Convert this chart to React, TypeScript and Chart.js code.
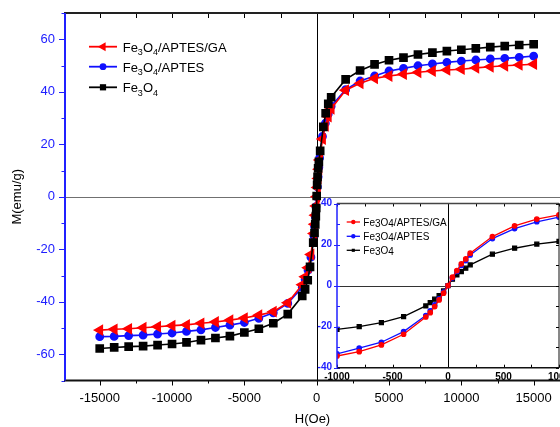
import React, { useEffect, useRef } from "react";
import { Chart, registerables } from "chart.js";

Chart.register(...registerables);

const FONT = "'Liberation Sans', Arial, Helvetica, sans-serif";
Chart.defaults.font.family = FONT;

// ---------------- main plot data ----------------
const H_MAIN_BLACK = [
  -15000, -14000, -13000, -12000, -11000, -10000, -9000, -8000, -7000, -6000, -5000, -4000, -3000, -2000,
  -1000, -800, -620, -460, -240, -150, -100, -60, -30, 0, 30, 60, 100, 150, 240, 460, 620, 800, 1000,
  2000, 3000, 4000, 5000, 6000, 7000, 8000, 9000, 10000, 11000, 12000, 13000, 14000, 15000,
];
const M_MAIN_BLACK = [
  -57.8, -57.4, -57.1, -56.9, -56.5, -56.1, -55.5, -54.6, -53.8, -53.1, -51.7, -50.3, -48.2, -44.7,
  -37.8, -35.3, -31.8, -26.7, -17.5, -13.8, -10.5, -7.4, -4.3, 0.3, 4.5, 7.6, 10.8, 13.3, 17.5, 26.6, 31.8, 35.4, 37.9,
  44.7, 48.1, 50.4, 52.0, 53.0, 54.2, 54.9, 55.5, 56.0, 56.5, 57.0, 57.4, 57.8, 58.1,
];
const H_MAIN_RB = [
  -15000, -14000, -13000, -12000, -11000, -10000, -9000, -8000, -7000, -6000, -5000, -4000, -3000, -2000,
  -1000, -800, -600, -400, -200, -150, -100, -50, 0, 50, 100, 150, 200, 400, 600, 800, 1000,
  2000, 3000, 4000, 5000, 6000, 7000, 8000, 9000, 10000, 11000, 12000, 13000, 14000, 15000,
];
const M_MAIN_RED = [
  -50.8, -50.5, -50.3, -49.9, -49.5, -49.1, -48.8, -48.2, -47.7, -47.0, -46.2, -45.1, -43.8, -40.4,
  -33.5, -30.5, -27.0, -22.0, -14.0, -10.5, -7.0, -3.5, 0, 3.5, 7.0, 10.5, 14.0, 22.0, 27.0, 30.5, 33.5,
  40.6, 43.2, 45.1, 46.0, 46.7, 47.4, 47.9, 48.3, 48.6, 49.1, 49.5, 49.9, 50.2, 50.5,
];
const M_MAIN_BLUE = [
  -53.3, -53.2, -52.9, -52.7, -52.3, -51.9, -51.3, -50.7, -49.8, -48.9, -47.9, -46.3, -44.2, -40.6,
  -34.5, -31.5, -28.0, -23.0, -14.8, -11.2, -7.6, -3.8, 0, 3.8, 7.6, 11.2, 14.8, 23.0, 28.0, 31.5, 34.5,
  40.8, 44.1, 46.0, 47.9, 48.9, 49.9, 50.6, 51.2, 51.7, 52.1, 52.5, 52.7, 53.1, 53.6,
];
const MAIN_X_TICKS = [-15000, -10000, -5000, 0, 5000, 10000, 15000];
const MAIN_Y_TICKS = [-60, -40, -20, 0, 20, 40, 60];

// ---------------- inset data ----------------
const H_INSET = [-1000, -800, -600, -400, -200, -160, -120, -80, -40, 0, 40, 80, 120, 160, 200, 400, 600, 800, 1000];
const M_INSET_RED = [-34.3, -32.2, -28.9, -23.7, -15.3, -13.2, -10.2, -7.0, -3.7, 0, 4.1, 7.3, 10.6, 13.0, 15.8, 23.9, 29.1, 32.4, 34.5];
const M_INSET_BLUE = [-33.3, -30.5, -27.6, -22.4, -14.6, -12.3, -9.4, -6.5, -3.2, 0, 3.8, 6.9, 9.8, 12.2, 14.9, 22.9, 27.8, 31.1, 33.4];
const M_INSET_BLACK = [-21.3, -20.0, -18.0, -15.1, -9.9, -8.3, -6.6, -4.9, -2.6, 0, 3.1, 5.2, 6.8, 8.5, 10.1, 15.3, 18.2, 20.2, 21.5];
const INSET_X_TICKS = [-1000, -500, 0, 500, 1000];
const INSET_Y_TICKS = [-40, -20, 0, 20, 40];

const LABEL_GA = "Fe3O4/APTES/GA";
const LABEL_APTES = "Fe3O4/APTES";
const LABEL_FE = "Fe3O4";

const RED = "#ff0000";
const BLUE = "#1010ff";
const AXIS_BLUE = "#2020ff";
const BLACK = "#000000";

const pts = (xs: number[], ys: number[]) => xs.map((x, i) => ({ x, y: ys[i] }));

function drawRich(ctx: CanvasRenderingContext2D, text: string, x: number, y: number, size: number, subSize: number, subDy: number, color: string) {
  ctx.fillStyle = color;
  ctx.textBaseline = "alphabetic";
  ctx.textAlign = "left";
  const runs = text.match(/[0-9]+|[^0-9]+/g) || [];
  let cx = x;
  for (const r of runs) {
    const isSub = /^[0-9]+$/.test(r);
    ctx.font = `${isSub ? subSize : size}px ${FONT}`;
    ctx.fillText(r, cx, y + (isSub ? subDy : 0));
    cx += ctx.measureText(r).width;
  }
}

function drawMarker(ctx: CanvasRenderingContext2D, style: string, cx: number, cy: number, r: number, color: string) {
  ctx.fillStyle = color;
  ctx.beginPath();
  if (style === "triangle") {
    ctx.moveTo(cx - r, cy);
    ctx.lineTo(cx + r * 0.5, cy - r * 0.866);
    ctx.lineTo(cx + r * 0.5, cy + r * 0.866);
    ctx.closePath();
  } else if (style === "rect") {
    const s = r * Math.SQRT1_2;
    ctx.rect(cx - s, cy - s, 2 * s, 2 * s);
  } else {
    ctx.arc(cx, cy, r, 0, Math.PI * 2);
  }
  ctx.fill();
}

function line(ctx: CanvasRenderingContext2D, x1: number, y1: number, x2: number, y2: number, color: string, w: number) {
  ctx.strokeStyle = color;
  ctx.lineWidth = w;
  ctx.beginPath();
  ctx.moveTo(x1, y1);
  ctx.lineTo(x2, y2);
  ctx.stroke();
}

const mainDecor = {
  id: "mainDecor",
  beforeDatasetsDraw(chart: any) {
    const { ctx, chartArea: a, scales } = chart;
    const x0 = scales.x.getPixelForValue(0);
    const y0 = scales.y.getPixelForValue(0);
    ctx.save();
    line(ctx, a.left, Math.round(y0) + 0.5, chart.width, Math.round(y0) + 0.5, "#707070", 1);
    line(ctx, Math.round(x0) + 0.5, a.top, Math.round(x0) + 0.5, a.bottom, "#000", 1);
    ctx.restore();
  },
  afterDatasetsDraw(chart: any) {
    const { ctx, chartArea: a, scales } = chart;
    const xs = scales.x;
    const ys = scales.y;
    ctx.save();
    // x ticks (bottom outward, top inward)
    for (let v = -17500; v <= 17500; v += 2500) {
      if (v < xs.min || v > xs.max) continue;
      const px = Math.round(xs.getPixelForValue(v)) + 0.5;
      const major = v % 5000 === 0;
      line(ctx, px, a.bottom, px, a.bottom + (major ? 5 : 3), "#000", 1);
      line(ctx, px, a.top, px, a.top + 5, "#000", 1);
    }
    // y ticks (left outward)
    for (let v = -70; v <= 70; v += 10) {
      const py = Math.round(ys.getPixelForValue(v)) + 0.5;
      const major = v % 20 === 0;
      line(ctx, a.left - (major ? 6 : 3.5), py, a.left, py, AXIS_BLUE, 1);
    }
    // axis lines
    line(ctx, a.left - 1, a.top, chart.width, a.top, "#222", 2);
    line(ctx, a.left - 1, a.bottom, chart.width, a.bottom, "#111", 2);
    line(ctx, a.left, a.top, a.left, a.bottom, AXIS_BLUE, 2);

    // legend
    const styles = [
      { style: "triangle", r: 5.2 },
      { style: "circle", r: 3.4 },
      { style: "rect", r: 4.4 },
    ];
    const rows = [46.7, 66.7, 87.3];
    chart.data.datasets.forEach((ds: any, i: number) => {
      const y = rows[i];
      line(ctx, 89, y, 117, y, ds.borderColor, 1.8);
      drawMarker(ctx, styles[i].style, 103, y, styles[i].r, ds.borderColor);
      drawRich(ctx, ds.label, 122.7, y + 5, 13, 9, 3.3, "#000");
    });
    ctx.restore();
  },
};

const insetDecor = {
  id: "insetDecor",
  beforeDraw(chart: any) {
    const { ctx, chartArea: a } = chart;
    ctx.save();
    ctx.fillStyle = "#fff";
    ctx.fillRect(a.left, a.top, a.right - a.left, a.bottom - a.top);
    ctx.restore();
  },
  beforeDatasetsDraw(chart: any) {
    const { ctx, chartArea: a, scales } = chart;
    const x0 = scales.x.getPixelForValue(0);
    const y0 = scales.y.getPixelForValue(0);
    ctx.save();
    line(ctx, a.left, Math.round(y0) + 0.5, a.right, Math.round(y0) + 0.5, "#333", 1);
    line(ctx, Math.round(x0) + 0.5, a.top, Math.round(x0) + 0.5, a.bottom, "#000", 1);
    ctx.restore();
  },
  afterDatasetsDraw(chart: any) {
    const { ctx, chartArea: a, scales } = chart;
    const xs = scales.x;
    const ys = scales.y;
    ctx.save();
    for (let v = -1000; v <= 1000; v += 250) {
      const px = Math.round(xs.getPixelForValue(v)) + 0.5;
      line(ctx, px, a.bottom, px, a.bottom - 3, "#000", 1);
      line(ctx, px, a.top, px, a.top + 3, "#000", 1);
    }
    for (let v = -40; v <= 40; v += 10) {
      const py = Math.round(ys.getPixelForValue(v)) + 0.5;
      const major = v % 20 === 0;
      line(ctx, a.left - (major ? 3 : 0), py, a.left + 3, py, AXIS_BLUE, 1);
      line(ctx, a.right - 3, py, a.right, py, "#000", 1);
    }
    line(ctx, a.left, a.top, a.right, a.top, "#444", 1.5);
    line(ctx, a.left, a.bottom, a.right, a.bottom, "#111", 1.5);
    line(ctx, a.right, a.top, a.right, a.bottom, "#111", 1);
    line(ctx, a.left, a.top, a.left, a.bottom, AXIS_BLUE, 1.5);

    // legend
    const styles = ["circle", "circle", "rect"];
    const rows = [32, 46.3, 60.3];
    chart.data.datasets.forEach((ds: any, i: number) => {
      const y = rows[i];
      line(ctx, 56.7, y, 70, y, ds.borderColor, 1.3);
      drawMarker(ctx, styles[i], 63.3, y, 2.2, ds.borderColor);
      drawRich(ctx, ds.label, 73.3, y + 3.6, 10, 10, 1.5, "#000");
    });
    ctx.restore();
  },
};

export default function App() {
  const mainRef = useRef<HTMLCanvasElement>(null);
  const insetRef = useRef<HTMLCanvasElement>(null);

  useEffect(() => {
    const main = new Chart(mainRef.current as HTMLCanvasElement, {
      type: "line",
      data: {
        datasets: [
          {
            label: LABEL_GA,
            data: pts(H_MAIN_RB, M_MAIN_RED),
            borderColor: RED,
            backgroundColor: RED,
            pointBackgroundColor: RED,
            pointBorderColor: RED,
            pointStyle: "triangle",
            pointRotation: -90,
            pointRadius: 5.2,
            borderWidth: 1.6,
            order: 1,
          },
          {
            label: LABEL_APTES,
            data: pts(H_MAIN_RB, M_MAIN_BLUE),
            borderColor: BLUE,
            backgroundColor: BLUE,
            pointBackgroundColor: BLUE,
            pointBorderColor: BLUE,
            pointStyle: "circle",
            pointRadius: 3.6,
            borderWidth: 1.6,
            order: 2,
          },
          {
            label: LABEL_FE,
            data: pts(H_MAIN_BLACK, M_MAIN_BLACK),
            borderColor: BLACK,
            backgroundColor: BLACK,
            pointBackgroundColor: BLACK,
            pointBorderColor: BLACK,
            pointStyle: "rect",
            pointRadius: 5,
            borderWidth: 1.6,
            order: 0,
          },
        ],
      } as any,
      options: {
        responsive: false,
        animation: false,
        devicePixelRatio: 1,
        layout: { autoPadding: false, padding: { top: 13, right: 0, left: 0, bottom: 0 } },
        plugins: { legend: { display: false }, tooltip: { enabled: false } },
        elements: { line: { tension: 0 }, point: { borderWidth: 1 } },
        scales: {
          x: {
            type: "linear",
            min: -17400,
            max: 16820,
            afterBuildTicks: (s: any) => {
              s.ticks = MAIN_X_TICKS.map((v) => ({ value: v }));
            },
            afterFit: (s: any) => {
              s.height = 46.5;
              s.paddingLeft = 0;
              s.paddingRight = 0;
            },
            grid: { display: false, drawTicks: false },
            border: { display: false },
            ticks: {
              padding: 10,
              color: "#000",
              font: { size: 13 },
              maxRotation: 0,
              autoSkip: false,
              callback: (v: any) => String(v),
            },
            title: { display: true, text: "H(Oe)", color: "#000", font: { size: 13 }, padding: { top: 0, bottom: 0 } },
          },
          y: {
            type: "linear",
            min: -70,
            max: 70,
            afterBuildTicks: (s: any) => {
              s.ticks = MAIN_Y_TICKS.map((v) => ({ value: v }));
            },
            afterFit: (s: any) => {
              s.width = 65;
              s.paddingTop = 0;
              s.paddingBottom = 0;
            },
            grid: { display: false, drawTicks: false },
            border: { display: false },
            ticks: {
              padding: 10,
              color: AXIS_BLUE,
              font: { size: 13 },
              autoSkip: false,
              callback: (v: any) => String(v),
            },
            title: { display: true, text: "M(emu/g)", color: "#000", font: { size: 13 }, padding: { top: 10, bottom: 0 } },
          },
        },
      } as any,
      plugins: [mainDecor],
    });

    const inset = new Chart(insetRef.current as HTMLCanvasElement, {
      type: "line",
      data: {
        datasets: [
          {
            label: LABEL_GA,
            data: pts(H_INSET, M_INSET_RED),
            borderColor: RED,
            backgroundColor: RED,
            pointBackgroundColor: RED,
            pointBorderColor: RED,
            pointStyle: "circle",
            pointRadius: 2.2,
            borderWidth: 1.3,
            order: 0,
          },
          {
            label: LABEL_APTES,
            data: pts(H_INSET, M_INSET_BLUE),
            borderColor: BLUE,
            backgroundColor: BLUE,
            pointBackgroundColor: BLUE,
            pointBorderColor: BLUE,
            pointStyle: "circle",
            pointRadius: 2.2,
            borderWidth: 1.3,
            order: 1,
          },
          {
            label: LABEL_FE,
            data: pts(H_INSET, M_INSET_BLACK),
            borderColor: BLACK,
            backgroundColor: BLACK,
            pointBackgroundColor: BLACK,
            pointBorderColor: BLACK,
            pointStyle: "rect",
            pointRadius: 2.8,
            borderWidth: 1.3,
            order: 2,
          },
        ],
      } as any,
      options: {
        responsive: false,
        animation: false,
        devicePixelRatio: 1,
        layout: { autoPadding: false, padding: { top: 13.5, right: 1, left: 0, bottom: 0 } },
        plugins: { legend: { display: false }, tooltip: { enabled: false } },
        elements: { line: { tension: 0 }, point: { borderWidth: 0.5 } },
        scales: {
          x: {
            type: "linear",
            min: -1000,
            max: 1000,
            afterBuildTicks: (s: any) => {
              s.ticks = INSET_X_TICKS.map((v) => ({ value: v }));
            },
            afterFit: (s: any) => {
              s.height = 17.3;
              s.paddingLeft = 0;
              s.paddingRight = 0;
            },
            grid: { display: false, drawTicks: false },
            border: { display: false },
            ticks: {
              padding: 3.5,
              color: "#000",
              font: { size: 10, weight: "bold" },
              maxRotation: 0,
              autoSkip: false,
              callback: (v: any) => String(v),
            },
          },
          y: {
            type: "linear",
            min: -40,
            max: 40,
            afterBuildTicks: (s: any) => {
              s.ticks = INSET_Y_TICKS.map((v) => ({ value: v }));
            },
            afterFit: (s: any) => {
              s.width = 47;
              s.paddingTop = 0;
              s.paddingBottom = 0;
            },
            grid: { display: false, drawTicks: false },
            border: { display: false },
            ticks: {
              padding: 5,
              color: AXIS_BLUE,
              font: { size: 10, weight: "bold" },
              autoSkip: false,
              callback: (v: any) => String(v),
            },
          },
        },
      } as any,
      plugins: [insetDecor],
    });

    return () => {
      main.destroy();
      inset.destroy();
    };
  }, []);

  return (
    <div style={{ position: "fixed", left: 0, top: 0, width: 560, height: 427, overflow: "hidden", background: "#fff" }}>
      <canvas ref={mainRef} width={560} height={427} style={{ position: "absolute", left: 0, top: 0 }} />
      <canvas ref={insetRef} width={270} height={195} style={{ position: "absolute", left: 290, top: 190 }} />
    </div>
  );
}
